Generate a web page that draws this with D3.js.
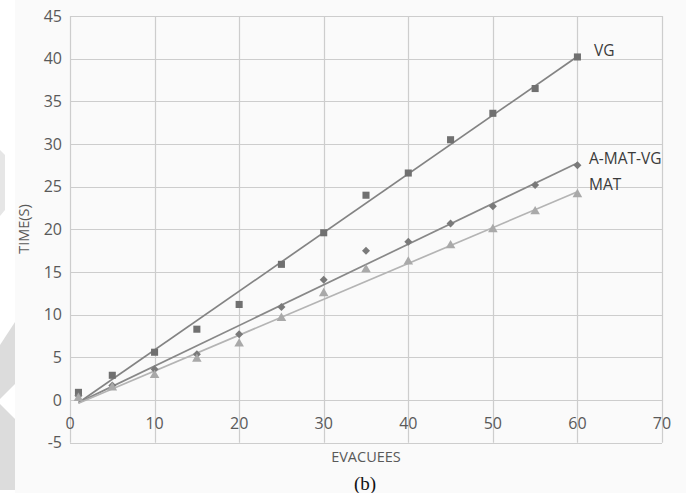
<!DOCTYPE html>
<html>
<head>
<meta charset="utf-8">
<script src="https://cdn.jsdelivr.net/npm/d3@7"></script>
<style>
  body { margin: 0; background: #fafafa; }
  svg { display: block; }
</style>
</head>
<body>
<div id="chart"></div>
<script>
// Data
const evacuees = [1, 5, 10, 15, 20, 25, 30, 35, 40, 45, 50, 55, 60];
const vgTime = [0.9, 2.9, 5.6, 8.3, 11.2, 15.9, 19.6, 24.0, 26.6, 30.5, 33.6, 36.5, 40.2];
const amatvgTime = [0.5, 1.7, 3.6, 5.35, 7.7, 10.9, 14.1, 17.5, 18.55, 20.7, 22.7, 25.2, 27.5];
const matTime = [0.2, 1.45, 2.9, 4.8, 6.6, 9.6, 12.5, 15.3, 16.2, 18.1, 20.0, 22.1, 24.1];
const seriesNames = ["VG", "A-MAT-VG", "MAT"];
const xTicks = [0, 10, 20, 30, 40, 50, 60, 70];
const yTicks = [-5, 0, 5, 10, 15, 20, 25, 30, 35, 40, 45];

const W = 686, H = 493;

const svg = d3.select("#chart")
  .append("svg")
  .attr("width", W)
  .attr("height", H);

// white strip + faint watermark shapes on the left edge
svg.append("rect")
  .attr("x", 0).attr("y", 0)
  .attr("width", 15).attr("height", H)
  .style("fill", "#ffffff");

svg.append("polygon")
  .attr("points", "0,150 5,155 5,210 0,216")
  .style("fill", "#e6e6e6");
svg.append("polygon")
  .attr("points", "0,345 15,322 15,384 0,399")
  .style("fill", "#dcdcdc");
svg.append("polygon")
  .attr("points", "0,404 15,419 15,490 0,490")
  .style("fill", "#dcdcdc");

// Scales
const x = d3.scaleLinear().domain([0, 70]).range([70, 662]);
const y = d3.scaleLinear().domain([-5, 45]).range([442.7, 16]);

// Grid
svg.selectAll("line.hgrid")
  .data(yTicks)
  .enter()
  .append("line")
  .attr("class", "hgrid")
  .attr("x1", x(0)).attr("x2", x(70))
  .attr("y1", d => Math.round(y(d)) + 0.5)
  .attr("y2", d => Math.round(y(d)) + 0.5)
  .style("stroke", "#cdcdcd")
  .style("stroke-width", 1.2);

svg.selectAll("line.vgrid")
  .data(xTicks)
  .enter()
  .append("line")
  .attr("class", "vgrid")
  .attr("x1", d => Math.round(x(d)) + 0.5)
  .attr("x2", d => Math.round(x(d)) + 0.5)
  .attr("y1", y(45)).attr("y2", y(-5))
  .style("stroke", "#cdcdcd")
  .style("stroke-width", 1.2);

// Tick labels
svg.selectAll("text.ytick")
  .data(yTicks)
  .enter()
  .append("text")
  .attr("class", "ytick")
  .attr("x", 62)
  .attr("y", d => y(d))
  .attr("dy", "0.35em")
  .attr("text-anchor", "end")
  .style("font-family", "'Open Sans', sans-serif")
  .style("font-size", "16px")
  .style("fill", "#595959")
  .text(d => d);

svg.selectAll("text.xtick")
  .data(xTicks)
  .enter()
  .append("text")
  .attr("class", "xtick")
  .attr("x", d => x(d))
  .attr("y", 423)
  .attr("dy", "0.35em")
  .attr("text-anchor", "middle")
  .style("font-family", "'Open Sans', sans-serif")
  .style("font-size", "16px")
  .style("fill", "#595959")
  .text(d => d);

// Series
const series = [
  { name: seriesNames[0], values: vgTime, color: "#707070", line: "#838383", shape: "square" },
  { name: seriesNames[1], values: amatvgTime, color: "#7a7a7a", line: "#888888", shape: "diamond" },
  { name: seriesNames[2], values: matTime, color: "#a9a9a9", line: "#b4b4b4", shape: "triangle" }
];

// Linear trend lines (least squares over each series)
function fit(xs, ys) {
  const mx = d3.mean(xs), my = d3.mean(ys);
  let num = 0, den = 0;
  xs.forEach((v, i) => { num += (v - mx) * (ys[i] - my); den += (v - mx) * (v - mx); });
  const b = num / den;
  return { b: b, a: my - b * mx };
}

series.forEach(s => {
  const f = fit(evacuees, s.values);
  const x0 = d3.min(evacuees), x1 = d3.max(evacuees);
  svg.append("line")
    .attr("x1", x(x0)).attr("y1", y(f.a + f.b * x0))
    .attr("x2", x(x1)).attr("y2", y(f.a + f.b * x1))
    .style("stroke", s.line)
    .style("stroke-width", 1.7);
});

const symbols = {
  square: d3.symbol().type(d3.symbolSquare).size(50),
  diamond: d3.symbol().type(d3.symbolSquare).size(32),
  triangle: d3.symbol().type(d3.symbolTriangle).size(40)
};

series.forEach(s => {
  svg.selectAll(null)
    .data(evacuees)
    .enter()
    .append("path")
    .attr("d", symbols[s.shape]())
    .attr("transform", (d, i) => `translate(${x(d)},${y(s.values[i])})` + (s.shape === "diamond" ? " rotate(45)" : ""))
    .style("fill", s.color);
});

// Series labels
const labelPos = [
  { x: 594, y: 51 },
  { x: 589, y: 159 },
  { x: 589, y: 184.5 }
];
seriesNames.forEach((n, i) => {
  svg.append("text")
    .attr("x", labelPos[i].x)
    .attr("y", labelPos[i].y)
    .attr("dy", "0.35em")
    .style("font-family", "'Open Sans', sans-serif")
    .style("font-size", "15.5px")
    .style("fill", "#3a3a3a")
    .text(n);
});

// Axis titles
svg.append("text")
  .attr("text-anchor", "middle")
  .attr("transform", "translate(24,229) rotate(-90)")
  .attr("dy", "0.35em")
  .style("font-family", "'Open Sans', sans-serif")
  .style("font-size", "14.5px")
  .style("fill", "#595959")
  .text("TIME(S)");

svg.append("text")
  .attr("text-anchor", "middle")
  .attr("x", 366)
  .attr("y", 457)
  .attr("dy", "0.35em")
  .style("font-family", "'Open Sans', sans-serif")
  .style("font-size", "14.5px")
  .style("fill", "#595959")
  .text("EVACUEES");

svg.append("text")
  .attr("text-anchor", "middle")
  .attr("x", 365)
  .attr("y", 483)
  .attr("dy", "0.35em")
  .style("font-family", "'Liberation Serif', serif")
  .style("font-size", "19px")
  .style("fill", "#111")
  .text("(b)");
</script>
</body>
</html>
